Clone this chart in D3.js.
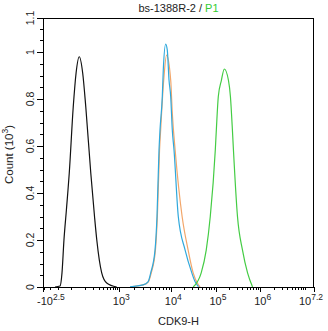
<!DOCTYPE html>
<html><head><meta charset="utf-8">
<script src="https://cdn.jsdelivr.net/npm/d3@7"></script>
<style>
body{margin:0;background:#fff}
svg{display:block}
text{font-family:"Liberation Sans",Arial,sans-serif;fill:#222}
</style>
</head><body><svg id="c" width="328" height="331"></svg>
<script>
// ---------- data ----------
const titleParts = ["bs-1388R-2 / ", "P1"];
const xTitle = "CDK9-H";
const yTitleParts = ["Count (10", "3", ")"];

const blackX = [-127, -77, -60, -45, -28, -11, 10, 27, 49, 77, 107, 166, 221, 260, 361, 493, 882];
const blackY = [0, 0.004, 0.06, 0.2, 0.33, 0.485, 0.766, 0.911, 0.98, 0.911, 0.766, 0.485, 0.3, 0.2, 0.06, 0.017, 0];

const orangeX = [1700, 3000, 3750, 4250, 5100, 5550, 6100, 6400, 7300, 8270, 9880, 10700, 12400, 17800, 24300, 31500, 40800, 45000];
const orangeY = [0.001, 0.009, 0.022, 0.06, 0.157, 0.3, 0.583, 0.668, 0.88, 0.987, 0.88, 0.74, 0.583, 0.3, 0.157, 0.06, 0.01, 0];

const blueX = [1660, 2960, 3690, 4150, 5010, 5460, 5960, 6220, 6870, 7170, 7960, 8530, 9180, 9880, 10700, 11700, 14600, 20800, 29400, 34900, 41500];
const blueY = [0.001, 0.009, 0.022, 0.06, 0.157, 0.3, 0.583, 0.668, 0.81, 0.923, 1.034, 1.008, 0.881, 0.81, 0.668, 0.583, 0.3, 0.157, 0.06, 0.022, 0.001];

const greenX = [31500, 47700, 61800, 76100, 98600, 104000, 115000, 135000, 157000, 194000, 215000, 238000, 251000, 309000, 400000, 519000, 672000];
const greenY = [0, 0.06, 0.157, 0.3, 0.583, 0.668, 0.81, 0.88, 0.928, 0.88, 0.81, 0.668, 0.583, 0.3, 0.157, 0.06, 0];

const xTickValues = [-Math.pow(10, 2.5), 1e3, 1e4, 1e5, 1e6, Math.pow(10, 7.2)];
const xTickBase = ["-10", "10", "10", "10", "10", "10"];
const xTickExp = ["2.5", "3", "4", "5", "6", "7.2"];

const yMax = 1.145;
const yTickValues = [0, 0.2, 0.4, 0.6, 0.8, 1, yMax];
const yTickLabels = ["0", "0.2", "0.4", "0.6", "0.8", "1", "1.1"];

// ---------- layout ----------
const L = 43, R = 314, T = 18, B = 287;
const svg = d3.select("#c");
svg.append("rect").attr("width", 328).attr("height", 331).attr("fill", "#fff");

const W = R - L;
const x = d3.scaleSymlog().constant(100)
  .domain([xTickValues[0], 1e3, 1e4, xTickValues[5]])
  .range([L, L + W * 0.2804, L + W * 0.4723, R]);
const y = d3.scaleLinear().domain([0, yMax]).range([B, T]);

// minor x ticks
const xMinor = [-300, -200, -100, 0];
for (let k = 1; k <= 9; k++) xMinor.push(k * 100);
for (let e = 3; e <= 6; e++) for (let k = 2; k <= 9; k++) xMinor.push(k * Math.pow(10, e));
xMinor.push(1e7);

const axisG = svg.append("g").attr("stroke", "#000").attr("stroke-width", 1).attr("shape-rendering", "crispEdges");
xMinor.forEach(v => {
  const px = Math.round(x(v)) + 0.5;
  axisG.append("line").attr("x1", px).attr("x2", px).attr("y1", B).attr("y2", B + 3);
});
xTickValues.forEach(v => {
  const px = Math.round(x(v)) + 0.5;
  axisG.append("line").attr("x1", px).attr("x2", px).attr("y1", B).attr("y2", B + 5);
});
d3.range(0, yMax, 0.05).forEach(v => {
  const py = Math.round(y(v)) + 0.5;
  axisG.append("line").attr("x1", L - 3).attr("x2", L).attr("y1", py).attr("y2", py);
});
yTickValues.forEach(v => {
  const py = Math.round(y(v)) + 0.5;
  axisG.append("line").attr("x1", L - 6).attr("x2", L).attr("y1", py).attr("y2", py);
});

// curves
const line = d3.line().x(d => x(d[0])).y(d => y(d[1])).curve(d3.curveMonotoneX);
const series = [
  [blackX, blackY, "#111111"],
  [orangeX, orangeY, "#f2a66a"],
  [blueX, blueY, "#2fa8dc"],
  [greenX, greenY, "#44cc44"]
];
series.forEach(([xs, ys, c]) => {
  svg.append("path").datum(xs.map((v, i) => [v, ys[i]]))
    .attr("d", line).attr("fill", "none").attr("stroke", c).attr("stroke-width", 1.2);
});

// frame
svg.append("rect").attr("x", L + 0.5).attr("y", T + 0.5).attr("width", W - 1).attr("height", B - T)
  .attr("fill", "none").attr("stroke", "#000").attr("shape-rendering", "crispEdges");

// x tick labels
const last = xTickValues.length - 1;
xTickValues.forEach((v, i) => {
  const t = svg.append("text").attr("y", 305).attr("font-size", 11);
  t.append("tspan").text(xTickBase[i]);
  t.append("tspan").attr("font-size", 8.5).attr("dy", -5).text(xTickExp[i]);
  if (i === last) {
    t.attr("text-anchor", "end").attr("x", 323);
  } else {
    const bw = t.node().getSubStringLength(0, xTickBase[i].length);
    t.attr("x", x(v) - bw / 2 + (i === 0 ? 2 : 0));
  }
});

// y tick labels
yTickValues.forEach((v, i) => {
  svg.append("text").attr("transform", `translate(34,${y(v)}) rotate(-90)`)
    .attr("text-anchor", "middle").attr("font-size", 10.5).text(yTickLabels[i]);
});

// axis titles
svg.append("text").attr("x", (L + R) / 2).attr("y", 325).attr("text-anchor", "middle")
  .attr("font-size", 11).text(xTitle);
const yt = svg.append("text").attr("transform", `translate(13,${(T + B) / 2 + 2}) rotate(-90)`)
  .attr("text-anchor", "middle").attr("font-size", 11.5);
yt.append("tspan").text(yTitleParts[0]);
yt.append("tspan").attr("font-size", 8.5).attr("dy", -5).text(yTitleParts[1]);
yt.append("tspan").attr("dy", 5).text(yTitleParts[2]);

// title
const tt = svg.append("text").attr("x", (L + R) / 2).attr("y", 12).attr("text-anchor", "middle").attr("font-size", 11);
tt.append("tspan").text(titleParts[0]);
tt.append("tspan").attr("fill", "#33cc33").style("fill", "#33cc33").text(titleParts[1]);
</script>
</body></html>
